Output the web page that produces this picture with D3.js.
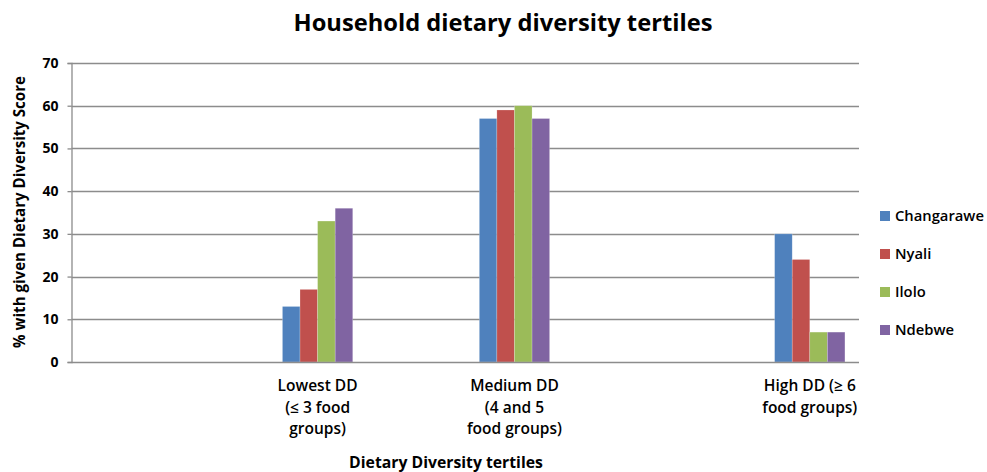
<!DOCTYPE html>
<html><head><meta charset="utf-8">
<script src="https://cdn.jsdelivr.net/npm/d3@7"></script>
<style>body{margin:0;background:#fff;} text{font-family:"Open Sans",Lato,sans-serif;fill:#000;}</style>
</head><body><svg id="c" width="987" height="472"></svg>
<script>
const slots = ["s0","s1","low","s3","med","s5","s6","high"];
const categoryLabels = {low:["Lowest DD","(≤ 3 food","groups)"], med:["Medium DD","(4 and 5","food groups)"], high:["High DD (≥ 6","food groups)"]};
const categories = ["low","med","high"];
const seriesNames = ["Changarawe","Nyali","Ilolo","Ndebwe"];
const changarawe = [13,57,30];
const nyali = [17,59,24];
const ilolo = [33,60,7];
const ndebwe = [36,57,7];
const yTicks = [0,10,20,30,40,50,60,70];
const colors = ["#4F81BD","#C0504D","#9BBB59","#8064A2"];
const seriesValues = [changarawe,nyali,ilolo,ndebwe];

const svg = d3.select("#c");
const pLeft=71.5, pRight=859, pTop=63, pBottom=362;
const x = d3.scaleBand().domain(slots).range([pLeft,pRight]).paddingInner(0).paddingOuter(0);
const inner = d3.scaleBand().domain(seriesNames).range([0, x.bandwidth()/1.4]);
const y = d3.scaleLinear().domain([0,70]).range([pBottom,pTop]);

function fit(sel, target){
  const fs = parseFloat(sel.style("font-size"));
  const w = sel.node().getComputedTextLength();
  const nf = fs*target/w;
  sel.style("font-size", nf+"px");
  return nf;
}

// gridlines
svg.append("g").selectAll("line").data(yTicks.filter(d=>d>0)).join("line")
  .attr("x1",pLeft).attr("x2",pRight).attr("y1",d=>Math.round(y(d))+0.5).attr("y2",d=>Math.round(y(d))+0.5)
  .attr("stroke","#8c8c8c").attr("stroke-width",1.3);

// bars
categories.forEach((c,ci)=>{
  const gx = x(c) + (x.bandwidth() - x.bandwidth()/1.4)/2;
  seriesNames.forEach((s,si)=>{
    const v = seriesValues[si][ci];
    svg.append("rect").attr("x",gx+inner(s)).attr("width",inner.bandwidth())
      .attr("y",y(v)).attr("height",y(0)-y(v)).attr("fill",colors[si])
      .attr("stroke","rgba(255,255,255,0.35)").attr("stroke-width",0.6);
  });
});

// y axis
const ya = svg.append("g").attr("transform",`translate(${pLeft},0)`)
  .call(d3.axisLeft(y).tickValues(yTicks).tickSize(4).tickPadding(9));
ya.select(".domain").attr("stroke","#8c8c8c").attr("stroke-width",1.3);
ya.selectAll(".tick line").attr("stroke","#8c8c8c").attr("stroke-width",1.3);
ya.selectAll("text").attr("font-family",null).style("font-size","14px").style("font-weight","bold").attr("fill","#000");

// x axis line
svg.append("line").attr("x1",pLeft).attr("x2",pRight).attr("y1",pBottom+0.5).attr("y2",pBottom+0.5)
  .attr("stroke","#8c8c8c").attr("stroke-width",1.3);

// x labels
const probe = svg.append("text").style("font-size","13px").style("font-weight","600").text(categoryLabels.low[0]);
const catFs = fit(probe, 80); probe.remove();
categories.forEach(c=>{
  const t = svg.append("text").attr("text-anchor","middle").style("font-size",catFs+"px").style("font-weight","600");
  categoryLabels[c].forEach((line,i)=>{
    t.append("tspan").attr("x",x(c)+x.bandwidth()/2).attr("y",391+i*21.5).text(line);
  });
});

// titles
const t1 = svg.append("text").attr("x",503).attr("y",31).attr("text-anchor","middle")
  .style("font-size","20px").style("font-weight","bold").text("Household dietary diversity tertiles");
fit(t1, 419);
const t2 = svg.append("text").attr("x",446).attr("y",468).attr("text-anchor","middle")
  .style("font-size","16px").style("font-weight","bold").text("Dietary Diversity tertiles");
fit(t2, 194);
const t3 = svg.append("text").attr("transform","translate(25,212) rotate(-90)").attr("text-anchor","middle")
  .style("font-size","13px").style("font-weight","bold").text("% with given Dietary Diversity Score");
fit(t3, 272);

// legend
const lg = svg.append("g");
let legFs = null;
seriesNames.forEach((s,i)=>{
  const yy = 216 + i*38;
  lg.append("rect").attr("x",880).attr("y",yy-5).attr("width",10).attr("height",10).attr("fill",colors[i]);
  const tt = lg.append("text").attr("x",895).attr("y",yy+5).style("font-size",(legFs||14)+"px").style("font-weight","600").text(s);
  if(i===0) legFs = fit(tt, 89);
});
</script></body></html>
